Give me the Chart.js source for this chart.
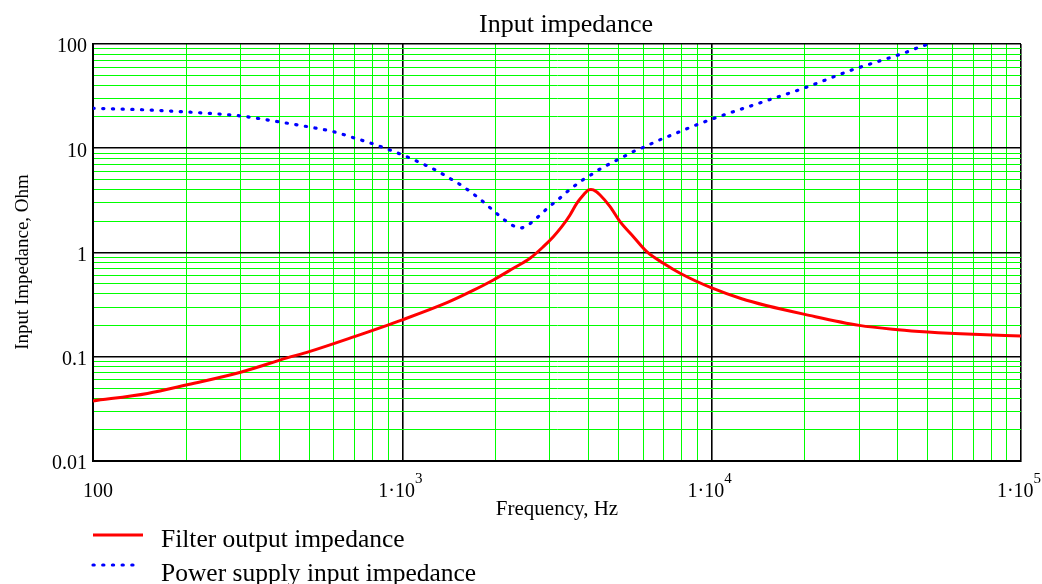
<!DOCTYPE html>
<html><head><meta charset="utf-8">
<script src="https://cdn.jsdelivr.net/npm/chart.js@4/dist/chart.umd.min.js"></script>
<style>html,body{margin:0;padding:0;background:#fff;} canvas{display:block;}</style>
</head><body>
<canvas id="c" width="1042" height="584"></canvas>
<script>
// ---- data ----
const filterFreq = [100, 150, 200, 300, 424, 500, 700, 1000, 1400, 1700, 1969, 2285, 2587, 2857, 3077, 3277, 3484, 3663, 3848, 3995, 4070, 4145, 4357, 4694, 5056, 5583, 6169, 6982, 7906, 10000, 12500, 15000, 20000, 30000, 40000, 50000, 70000, 100000];
const filterZ    = [0.0377, 0.0445, 0.0535, 0.071, 0.0975, 0.112, 0.156, 0.226, 0.332, 0.435, 0.545, 0.706, 0.88, 1.137, 1.417, 1.768, 2.29, 2.96, 3.56, 3.98, 4.02, 3.98, 3.56, 2.75, 1.975, 1.417, 1.018, 0.788, 0.632, 0.457, 0.36, 0.31, 0.255, 0.2, 0.182, 0.173, 0.164, 0.158];
const supplyFreq = [100, 150, 200, 300, 400, 500, 600, 690, 805, 900, 1000, 1085, 1155, 1245, 1324, 1415, 1517, 1635, 1738, 1841, 1960, 2042, 2175, 2314, 2400, 2475, 2640, 2826, 3003, 3180, 3357, 3545, 3754, 3990, 4220, 4446, 4719, 4988, 5315, 5653, 6012, 6478, 6898, 7430, 8500, 10000, 15000, 20000, 28380, 32260, 36580, 42200, 48000, 50500];
const supplyZ    = [24.2, 23.3, 22.3, 20.4, 17.9, 16.0, 14.4, 12.7, 11.0, 9.75, 8.65, 7.8, 7.15, 6.45, 5.85, 5.2, 4.6, 3.95, 3.45, 3.0, 2.55, 2.3, 1.98, 1.77, 1.72, 1.75, 1.98, 2.38, 2.79, 3.19, 3.68, 4.18, 4.78, 5.35, 5.96, 6.56, 7.17, 7.83, 8.61, 9.47, 10.2, 11.3, 12.27, 13.4, 15.8, 19.0, 28.5, 38.0, 56.3, 63.8, 71.8, 82.6, 95.7, 100.0];

const xDecades = [100, 1000, 10000, 100000];
const xLabelBase = ['100', '1\u00B710', '1\u00B710', '1\u00B710'];
const xLabelExp  = ['', '3', '4', '5'];
const yDecades = [0.01, 0.1, 1, 10, 100];
const yLabels  = ['0.01', '0.1', '1', '10', '100'];
const minorSteps = [1, 2, 3, 4, 5, 6, 7, 8, 9];

const titleText = 'Input impedance';
const xTitle = 'Frequency, Hz';
const yTitle = 'Input Impedance, Ohm';
const seriesNames = ['Filter output impedance', 'Power supply input impedance'];

// ---- grid values (decades and their 2..9 multiples) ----
function gridValues(decades) {
  const out = [];
  for (let i = 0; i < decades.length - 1; i++) minorSteps.forEach(m => out.push(m * decades[i]));
  out.push(decades[decades.length - 1]);
  return out;
}
const isDecade = v => Math.abs(Math.log10(v) - Math.round(Math.log10(v))) < 1e-9;

const SERIF = '"Liberation Serif", "Times New Roman", serif';

const gridOpts = {
  drawTicks: false,
  color: ctx => (ctx.tick && isDecade(ctx.tick.value)) ? '#000000' : '#00ff00',
  lineWidth: ctx => (ctx.tick && isDecade(ctx.tick.value)) ? 1.6 : 1
};

const textPlugin = {
  id: 'texts',
  afterDraw(chart) {
    const c = chart.ctx;
    const xs = chart.scales.x, area = chart.chartArea;
    c.save();
    c.fillStyle = '#000';
    // title
    c.font = '26px ' + SERIF;
    c.textAlign = 'center'; c.textBaseline = 'alphabetic';
    c.fillText(titleText, 566, 32);
    // x title
    c.font = '21px ' + SERIF;
    c.fillText(xTitle, (area.left + area.right) / 2, 515);
    // y title
    c.save();
    c.translate(28, 262);
    c.rotate(-Math.PI / 2);
    c.font = '19px ' + SERIF;
    c.textAlign = 'center';
    c.fillText(yTitle, 0, 0);
    c.restore();
    // x tick labels with superscripts
    xDecades.forEach((v, i) => {
      const px = xs.getPixelForValue(v);
      c.font = '20px ' + SERIF;
      const wb = c.measureText(xLabelBase[i]).width;
      c.font = '15px ' + SERIF;
      const we = xLabelExp[i] ? c.measureText(xLabelExp[i]).width : 0;
      let left = px - (wb + we) / 2;
      left += (i === 0) ? 5 : -2;
      c.textAlign = 'left';
      c.font = '20px ' + SERIF;
      c.fillText(xLabelBase[i], left, 497);
      if (xLabelExp[i]) {
        c.font = '15px ' + SERIF;
        c.fillText(xLabelExp[i], left + wb, 483);
      }
    });
    // legend
    const ds = chart.data.datasets;
    const rows = [{y: 535, tx: 546.5, x2: 143}, {y: 565, tx: 580.5, x2: 134}];
    ds.forEach((d, i) => {
      c.save();
      c.strokeStyle = d.borderColor;
      c.lineWidth = d.borderWidth;
      c.lineCap = d.borderCapStyle || 'butt';
      c.setLineDash(d.borderDash || []);
      c.beginPath();
      c.moveTo(93, rows[i].y);
      c.lineTo(rows[i].x2, rows[i].y);
      c.stroke();
      c.restore();
      c.font = '25.5px ' + SERIF;
      c.textAlign = 'left';
      c.fillStyle = '#000';
      c.fillText(d.label, 161, rows[i].tx);
    });
    c.restore();
  }
};

new Chart(document.getElementById('c'), {
  type: 'line',
  data: {
    datasets: [
      {
        label: seriesNames[0],
        data: filterFreq.map((f, i) => ({x: f, y: filterZ[i]})),
        borderColor: '#ff0000',
        borderWidth: 3,
        pointRadius: 0,
        cubicInterpolationMode: 'monotone',
        fill: false
      },
      {
        label: seriesNames[1],
        data: supplyFreq.map((f, i) => ({x: f, y: supplyZ[i]})),
        borderColor: '#0000ff',
        borderWidth: 3.2,
        borderDash: [1.2, 8.5],
        borderCapStyle: 'round',
        pointRadius: 0,
        cubicInterpolationMode: 'monotone',
        fill: false
      }
    ]
  },
  options: {
    responsive: false,
    animation: false,
    devicePixelRatio: 1,
    layout: {padding: {top: 44, right: 21, bottom: 0, left: 0}},
    plugins: {legend: {display: false}, tooltip: {enabled: false}, title: {display: false}},
    scales: {
      x: {
        type: 'logarithmic', min: 100, max: 100000, position: 'bottom',
        grid: gridOpts,
        border: {display: true, color: '#000', width: 2},
        ticks: {display: false, autoSkip: false},
        afterBuildTicks: s => { s.ticks = gridValues(xDecades).map(v => ({value: v})); },
        afterFit: s => { s.height = 123; }
      },
      y: {
        type: 'logarithmic', min: 0.01, max: 100, position: 'left',
        grid: gridOpts,
        border: {display: true, color: '#000', width: 2},
        ticks: {
          autoSkip: false,
          padding: 6,
          labelOffset: 3,
          color: '#000',
          font: {family: SERIF, size: 20},
          callback: v => { const k = yDecades.findIndex(d => Math.abs(d - v) / d < 1e-9); return k >= 0 ? yLabels[k] : ''; }
        },
        afterBuildTicks: s => { s.ticks = gridValues(yDecades).map(v => ({value: v})); },
        afterFit: s => { s.width = 93; }
      }
    }
  },
  plugins: [textPlugin]
});
</script>
</body></html>
